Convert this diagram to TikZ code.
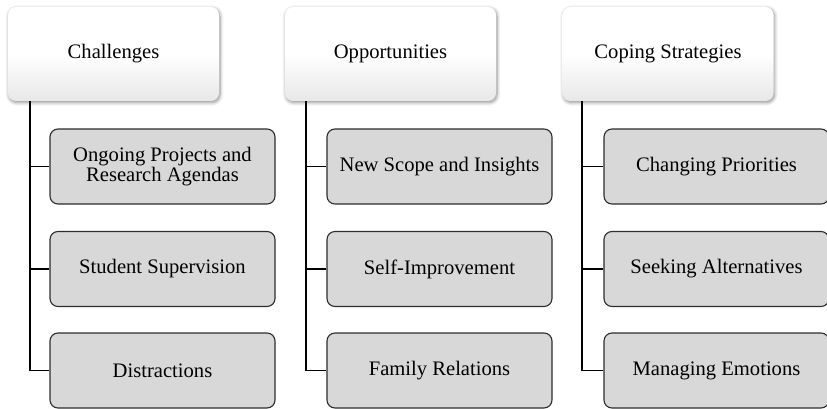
\documentclass[tikz,border=0pt]{standalone}
\usepackage{fontspec}
\setmainfont{Liberation Serif}
\usetikzlibrary{shadows.blur,calc}
\definecolor{childfill}{RGB}{216,216,216}
\definecolor{childline}{RGB}{45,45,45}
\definecolor{headbottom}{RGB}{232,232,232}
\tikzset{
  headbox/.style={rounded corners=8pt, minimum width=211pt, minimum height=94pt,
    top color=white, bottom color=headbottom, middle color=white, draw=none,
    blur shadow={shadow xshift=1pt, shadow yshift=-1.5pt, shadow blur radius=3.5pt,
      shadow blur steps=6, shadow opacity=45},
    inner sep=0pt, align=center, font=\fontsize{20.6}{20}\selectfont},
  itembox/.style={rounded corners=8pt, minimum width=225pt, minimum height=75pt,
    fill=childfill, draw=childline, line width=1.1pt,
    inner sep=0pt, align=center, font=\fontsize{20.6}{20}\selectfont},
  conn/.style={line width=1.7pt, black}
}
\begin{document}
\begin{tikzpicture}[x=1pt,y=-1pt]
\useasboundingbox (0,0) rectangle (827,409);

% column 1
\node[headbox] (t1) at (113.5,54) {Challenges};
\node[itembox] (a1) at (162.5,166.5) {Ongoing Projects and\\Research Agendas};
\node[itembox] (a2) at (162.5,269) {Student Supervision};
\node[itembox] (a3) at (162.5,370.5) {Distractions};
\coordinate (s1) at ([xshift=22pt]t1.south west);
\draw[conn] (s1) |- (a3.west);
\draw[conn] (s1) |- (a2.west);
\draw[conn] (s1) |- (a1.west);

% column 2
\node[headbox] (t2) at (390.5,54) {Opportunities};
\node[itembox] (b1) at (439.5,166.5) {New Scope and Insights};
\node[itembox] (b2) at (439.5,269) {Self-Improvement};
\node[itembox] (b3) at (439.5,370.5) {Family Relations};
\coordinate (s2) at ([xshift=21pt]t2.south west);
\draw[conn] (s2) |- (b3.west);
\draw[conn] (s2) |- (b2.west);
\draw[conn] (s2) |- (b1.west);

% column 3
\node[headbox] (t3) at (668,54) {Coping Strategies};
\node[itembox] (c1) at (716.5,166.5) {Changing Priorities};
\node[itembox] (c2) at (716.5,269) {Seeking Alternatives};
\node[itembox] (c3) at (716.5,370.5) {Managing Emotions};
\coordinate (s3) at ([xshift=20pt]t3.south west);
\draw[conn] (s3) |- (c3.west);
\draw[conn] (s3) |- (c2.west);
\draw[conn] (s3) |- (c1.west);
\end{tikzpicture}
\end{document}
